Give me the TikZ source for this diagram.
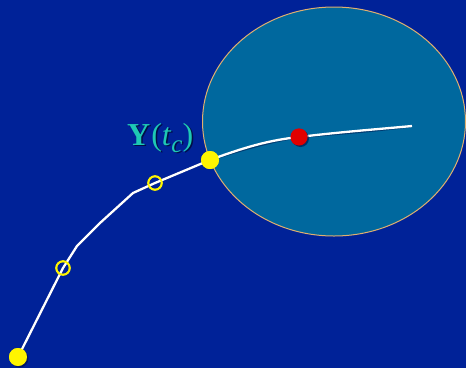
\documentclass[tikz,border=0pt]{standalone}
\usepackage{fontspec}
\setmainfont{Liberation Serif}
\usepackage{tikz}
\usetikzlibrary{calc}
\usepackage{xcolor}
\definecolor{bgblue}{RGB}{0,34,152}
\definecolor{ballblue}{RGB}{0,104,158}
\definecolor{rimtan}{RGB}{225,175,110}
\definecolor{dotyellow}{RGB}{255,245,0}
\definecolor{dotred}{RGB}{225,0,0}
\definecolor{labteal}{RGB}{30,200,180}
\definecolor{shadowc}{RGB}{0,15,70}
\newcommand{\ytc}{\textbf{Y}\kern1pt(\textit{t}\raisebox{-0.22em}{\fontsize{25}{25}\selectfont\itshape c})}
\tikzset{
  dot/.style={circle,draw=none,fill=dotyellow,minimum size=18pt,inner sep=0pt},
  dotR/.style={dot,fill=dotred,minimum size=17pt},
  ring/.style={circle,draw=dotyellow,line width=1.8pt,fill=none,
               minimum size=13.5pt,inner sep=0pt},
  curve/.style={white,line width=2.3pt,line join=round},
  lbl/.style={text=labteal,inner sep=0pt,font=\fontsize{32}{38}\selectfont},
}

\begin{document}
\begin{tikzpicture}[x=1pt,y=-1pt]
    \useasboundingbox (0,0) rectangle (466,368);
    \fill[bgblue] (0,0) rectangle (466,368);
    \clip (0,0) rectangle (466,368);
    % neighbourhood
    \draw[rimtan,fill=ballblue,line width=1pt] (334,121.5) ellipse [x radius=131.5,y radius=114.5];
    % bends of the path
    \coordinate (k1) at (77,246);
    \coordinate (k2) at (100,223);
    \coordinate (k3) at (133,193);
    \coordinate (tip) at (412,126);
    % points on the path
    \node[dot] (y0) at (18,357) {};
    \node[ring] (o1) at (63,268) {};
    \node[ring] (o2) at (155,183) {};
    \node[dot] (yc) at (210,160) {};
    \node[dotR] (yr) at (299,137) {};
    % path, with a faint shadow
    \draw[curve,draw=shadowc,opacity=0.5,shift={(1,1.5)}]
      (y0.center) -- (o1.center) -- (k1) -- (k2) -- (k3) -- (o2.center) -- (yc.center)
      .. controls (245,147) and (270,140) .. (yr.center)
      .. controls (340,132) and (380,129) .. (tip);
    \draw[curve]
      (y0.center) -- (o1.center) -- (k1) -- (k2) -- (k3) -- (o2.center) -- (yc.center)
      .. controls (245,147) and (270,140) .. (yr.center)
      .. controls (340,132) and (380,129) .. (tip);
    % dots on top
    \fill[shadowc,opacity=0.6] ($(y0)+(1.5,1.5)$) circle (9pt);
    \fill[shadowc,opacity=0.6] ($(yr)+(1.5,1.5)$) circle (8.5pt);
    \node[dot] at (y0) {};
    \node[ring] at (o1) {};
    \node[ring] at (o2) {};
    \node[dot] at (yc) {};
    \node[dotR] at (yr) {};
    % label
    \node[lbl,text=shadowc,anchor=base west] at (128.5,146.5) {\ytc};
    \node[lbl,anchor=base west] (ylab) at (127,145) {\ytc};
\end{tikzpicture}
\end{document}
